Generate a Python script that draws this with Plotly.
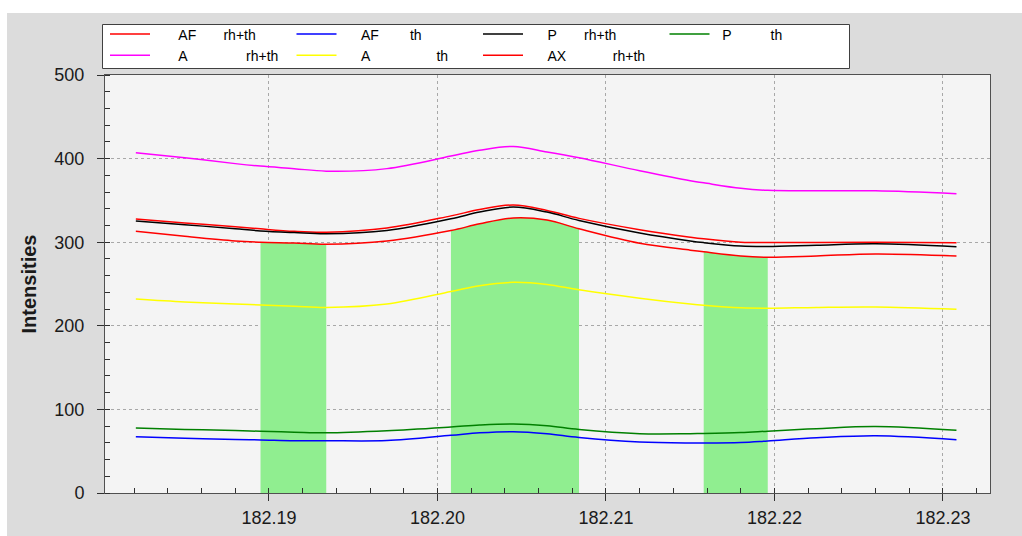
import numpy as np
import plotly.graph_objects as go

# ---- data ----
x = [182.1821, 182.1850, 182.1880, 182.1895, 182.1915, 182.1934, 182.1970,
     182.2008, 182.2025, 182.2045, 182.2065, 182.2084, 182.2120, 182.2150,
     182.2158, 182.2180, 182.2196, 182.2225, 182.2260, 182.2308]

af_rhth = [327.7, 323.0, 318.6, 316.0, 313.0, 312.0, 317.0, 331.5, 339.0, 344.5,
           338.0, 328.5, 315.0, 306.0, 304.0, 300.0, 299.5, 299.6, 299.8, 299.4]
af_th = [67.4, 65.4, 64.0, 63.5, 62.6, 62.6, 62.8, 69.0, 72.0, 73.3,
         70.8, 66.3, 61.0, 59.8, 59.8, 60.5, 62.3, 66.0, 68.5, 63.8]
p_rhth = [325.4, 321.0, 316.0, 313.5, 311.5, 310.0, 314.0, 328.0, 336.0, 342.0,
          336.0, 326.0, 311.0, 301.5, 299.5, 295.5, 295.0, 296.5, 298.0, 294.6]
p_th = [77.8, 76.0, 74.8, 73.8, 72.8, 72.0, 74.5, 79.0, 81.3, 82.5,
        80.5, 76.0, 71.0, 71.0, 71.2, 72.3, 74.0, 77.0, 79.5, 75.0]
a_rhth = [407.0, 401.0, 394.0, 391.0, 388.0, 385.0, 388.0, 403.0, 410.0, 414.5,
          408.0, 401.0, 385.5, 373.5, 371.0, 364.5, 362.0, 361.5, 361.5, 358.0]
a_th = [232.0, 228.5, 226.0, 225.0, 223.5, 222.0, 226.0, 241.0, 248.0, 252.0,
        249.5, 243.0, 233.0, 226.0, 224.5, 221.5, 221.0, 222.0, 222.5, 219.7]
ax_rhth = [313.0, 307.0, 301.5, 300.0, 299.0, 297.5, 301.5, 314.0, 322.0, 329.0,
           326.5, 316.0, 298.7, 290.5, 288.5, 283.5, 282.0, 283.5, 286.0, 283.5]

# highlighted x-ranges (green bands, filled under the AX rh+th curve)
band_starts = [182.1895, 182.2008, 182.2158]
band_ends = [182.1934, 182.2084, 182.2196]

# legend labels: (compound, method, leading spaces, gap spaces)
label_parts = [("AF", "rh+th", 6, 7), ("AF", "th", 5, 8), ("P", "rh+th", 5, 7), ("P", "th", 2, 10),
               ("A", "rh+th", 6, 15), ("A", "th", 5, 17), ("AX", "rh+th", 5, 12)]
NB = "\u00a0"
series_names = [NB * lead + c + NB * g + m for c, m, lead, g in label_parts]
series_values = [af_rhth, af_th, p_rhth, p_th, a_rhth, a_th, ax_rhth]
series_colors = ["#ff0000", "#0000ff", "#000000", "#008000",
                 "#ff00ff", "#ffff00", "#ff0000"]

x_ticks = [182.19, 182.20, 182.21, 182.22, 182.23]

# ---- figure ----
W, H = 1022, 536
ML, MR, MT, MB = 105, 32, 75, 43
PW, PH = W - ML - MR, H - MT - MB


def px_to_paper_x(px):
    return (px - ML) / PW


def px_to_paper_y(py):
    return (H - MB - py) / PH


fig = go.Figure()

xa = np.array(x)
ya = np.array(ax_rhth)
for s, e in zip(band_starts, band_ends):
    m = (xa >= s - 1e-9) & (xa <= e + 1e-9)
    fig.add_trace(go.Scatter(
        x=xa[m], y=ya[m], mode="lines", line=dict(width=0, shape="spline"),
        fill="tozeroy", fillcolor="#90ee90", showlegend=False, hoverinfo="skip"))

for name, vals, col in zip(series_names, series_values, series_colors):
    fig.add_trace(go.Scatter(x=x, y=vals, name=name, mode="lines",
                             line=dict(color=col, width=1.5, shape="spline")))

FONT = "Liberation Sans, Arial, sans-serif"
axis_font = dict(family=FONT, size=18, color="#1a1a1a")

fig.update_layout(
    width=W, height=H,
    margin=dict(l=ML, r=MR, t=MT, b=MB, autoexpand=False),
    paper_bgcolor="#dcdcdc",
    plot_bgcolor="#f4f4f4",
    font=axis_font,
    legend=dict(
        orientation="h", x=0, xanchor="left", y=px_to_paper_y(18.5), yanchor="top",
        bgcolor="rgba(0,0,0,0)", borderwidth=0,
        font=dict(family=FONT, size=14, color="#000000"),
        itemwidth=40, entrywidth=131.5, entrywidthmode="pixels",
        tracegroupgap=0,
    ),
    shapes=[
        dict(type="rect", xref="paper", yref="paper", layer="below",
             x0=px_to_paper_x(0), x1=px_to_paper_x(7), y0=px_to_paper_y(H + 5), y1=px_to_paper_y(-5),
             fillcolor="#ffffff", line=dict(width=0)),
        dict(type="rect", xref="paper", yref="paper", layer="below",
             x0=px_to_paper_x(-5), x1=px_to_paper_x(W + 5), y0=px_to_paper_y(13), y1=px_to_paper_y(-5),
             fillcolor="#ffffff", line=dict(width=0)),
        # legend frame
        dict(type="rect", xref="paper", yref="paper", layer="below",
             x0=px_to_paper_x(102.5), x1=px_to_paper_x(849.5), y0=px_to_paper_y(68.5), y1=px_to_paper_y(24.5),
             fillcolor="#ffffff", line=dict(width=1, color="#404040")),
    ],
)

fig.update_xaxes(
    range=[182.18027, 182.23279], tickvals=x_ticks, tickformat=".2f",
    showline=True, linecolor="#505050", linewidth=1, mirror=True,
    ticks="outside", ticklen=7, tickcolor="#303030",
    showgrid=True, gridcolor="#a8a8a8", griddash="dot", gridwidth=1,
    zeroline=False,
    minor=dict(dtick=0.002, tick0=182.19, ticks="inside", ticklen=5, tickcolor="#303030", showgrid=False),
    tickfont=axis_font, ticklabelstandoff=1,
)
fig.update_yaxes(
    range=[0, 500], dtick=100,
    showline=True, linecolor="#505050", linewidth=1, mirror=True,
    ticks="outside", ticklen=7, tickcolor="#303030",
    showgrid=True, gridcolor="#a8a8a8", griddash="dot", gridwidth=1,
    zeroline=False,
    minor=dict(dtick=20, ticks="inside", ticklen=5, tickcolor="#303030", showgrid=False),
    tickfont=axis_font, ticklabelstandoff=9,
    title=dict(text="<b>Intensities</b>", standoff=12,
               font=dict(family=FONT, size=20, color="#1a1a1a")),
)

fig.write_html("out.html")
